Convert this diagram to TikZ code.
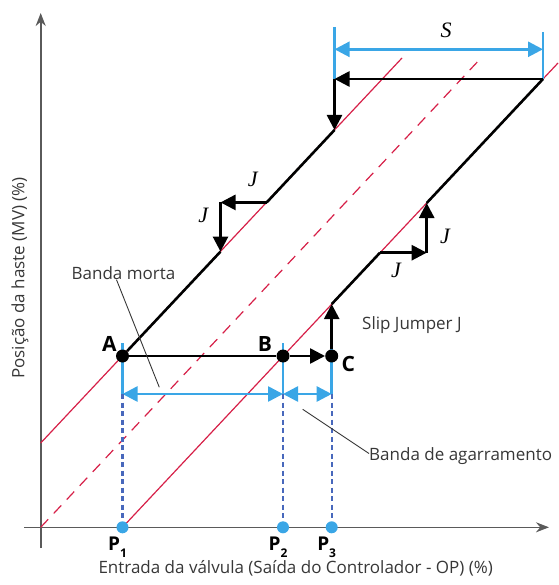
\documentclass[tikz,border=0pt]{standalone}
\usepackage{fontspec}
\setmainfont{Open Sans}
\newfontfamily\timesfont{Liberation Serif}
\usetikzlibrary{arrows.meta,positioning}
\definecolor{hred}{RGB}{214,32,72}
\definecolor{hblue}{RGB}{58,166,230}
\definecolor{hdark}{RGB}{72,104,188}
\definecolor{haxis}{RGB}{90,90,90}
\definecolor{htext}{RGB}{55,55,55}
\newcommand{\psub}[1]{\raisebox{-7pt}{\fontsize{12}{13}\selectfont #1}}

\begin{document}
\begin{tikzpicture}[
  x=1pt, y=-1pt,
  axis/.style={draw=haxis, line width=1.6pt, -{Stealth[length=13pt,width=10pt]}},
  redline/.style={draw=hred, line width=1.2pt},
  stroke/.style={line width=2.6pt},
  jump/.style={stroke, -{Triangle[length=15pt,width=15pt]}},
  tick/.style={draw=hblue, line width=2.6pt},
  dim/.style={tick, {Triangle[length=15pt,width=15pt]}-{Triangle[length=15pt,width=15pt]}},
  guide/.style={draw=hdark, line width=2.4pt, dash pattern=on 5pt off 3.5pt},
  leader/.style={draw=htext, line width=0.9pt},
  dot/.style={circle, fill, inner sep=0pt, minimum size=13pt},
  pdot/.style={circle, fill=hblue, inner sep=0pt, minimum size=12pt},
  lab/.style={font=\fontsize{17}{20}\selectfont, text=htext, inner sep=0pt},
  ptlab/.style={font=\fontsize{21}{24}\selectfont\bfseries, inner sep=0pt},
  plab/.style={font=\fontsize{19}{22}\selectfont\bfseries, inner sep=0pt},
  jlab/.style={font=\fontsize{22}{24}\selectfont\timesfont\itshape, inner sep=0pt}
]
  \useasboundingbox (0,0) rectangle (558,585);

  % axes
  \coordinate (xl) at (24,527.3);
  \coordinate (xr) at (549,527.3);
  \coordinate (yb) at (40.7,548);
  \coordinate (yt) at (40.7,13);
  \draw[axis] (xl) -- (xr);
  \draw[axis] (yb) -- (yt);

  % points on the two limit lines
  \coordinate (ll0) at (40.7,443);
  \coordinate (ll1) at (402,58);
  \coordinate (rl0) at (122.5,527.3);
  \coordinate (rl1) at (558,63);
  \coordinate (ml0) at (40.7,527.3);
  \coordinate (ml1) at (482,57);
  \coordinate (jl1) at (220.5,251.6);
  \coordinate (jl2) at (266.7,202.4);
  \coordinate (jlc) at (220.5,202.4);
  \coordinate (tl) at (334.5,130);
  \coordinate (tlc) at (334.5,79);
  \coordinate (tr) at (543,79);
  \coordinate (cr) at (331.7,304.1);
  \coordinate (jr1) at (380,252.7);
  \coordinate (jrc) at (426.7,252.7);
  \coordinate (jr2) at (426.7,203);

  \draw[redline] (ll0) -- (ll1);
  \draw[redline] (rl0) -- (rl1);
  \draw[redline, dash pattern=on 11pt off 8pt] (ml0) -- (ml1);

  % dimensions
  \coordinate (sl) at (334.5,27);
  \coordinate (sr) at (543,32);
  \coordinate (s1) at (334.5,49.3);
  \coordinate (s2) at (543,49.3);
  \draw[tick] (sl) -- (tlc);
  \draw[tick] (sr) -- (tr);
  \draw[dim] (s1) -- (s2);

  \coordinate (a0) at (122.5,343);
  \coordinate (a1) at (122.5,394);
  \coordinate (b0) at (283,343);
  \coordinate (b1) at (283,394);
  \coordinate (c0) at (331.7,343);
  \coordinate (c1) at (331.7,394);
  \draw[tick] (a0) -- (a1);
  \draw[tick] (b0) -- (b1);
  \draw[tick] (c0) -- (c1);
  \draw[dim] (a1) -- (b1);
  \draw[dim] (b1) -- (c1);

  \node[pdot] (P1) at (122.5,527.3) {};
  \node[pdot] (P2) at (283,527.3) {};
  \node[pdot] (P3) at (331.7,527.3) {};
  \draw[guide] (a1) -- (P1);
  \draw[guide] (b1) -- (P2);
  \draw[guide] (c1) -- (P3);

  \node[dot] (A) at (122.5,356) {};
  \node[dot] (B) at (283,356) {};
  \node[dot] (C) at (331.7,356) {};

  % valve path
  \draw[stroke] (A) -- (B);
  \draw[jump] (B) -- (C);
  \draw[jump] (C) -- (cr);
  \draw[stroke] (cr) -- (jr1);
  \draw[jump] (jr1) -- (jrc);
  \draw[jump] (jrc) -- (jr2);
  \draw[stroke] (jr2) -- (tr);
  \draw[jump] (tr) -- (tlc);
  \draw[jump] (tlc) -- (tl);
  \draw[stroke] (tl) -- (jl2);
  \draw[jump] (jl2) -- (jlc);
  \draw[jump] (jlc) -- (jl1);
  \draw[stroke] (jl1) -- (A);

  % labels
  \node[ptlab, above left=0pt and 1pt of A] (la) {A};
  \node[ptlab, above left=0pt and 6pt of B] (lb) {B};
  \node[ptlab, below right=-5pt and 5pt of C] (lc) {C};
  \node[plab, below=3pt of P1, xshift=-5pt] (lp1) {P\psub{1}};
  \node[plab, below=3pt of P2, xshift=-5pt] (lp2) {P\psub{2}};
  \node[plab, below=3pt of P3, xshift=-5pt] (lp3) {P\psub{3}};

  \node[jlab] (ls) at (446,30) {S};
  \node[jlab] (j1) at (252.7,179.3) {J};
  \node[jlab] (j2) at (203.3,215) {J};
  \node[jlab] (j3) at (445,236.7) {J};
  \node[jlab] (j4) at (396,270) {J};

  \node[lab] (bm) at (123.5,273) {Banda morta};
  \coordinate (bmend) at (159.3,387.3);
  \draw[leader] ([xshift=-7pt]bm.south) -- (bmend);
  \node[lab, anchor=west] (bg) at (369,456.5) {Banda de agarramento};
  \coordinate (bgend) at (302.7,409.3);
  \draw[leader] (bgend) -- ([yshift=3pt]bg.west);
  \node[lab, anchor=west] (sj) at (362,325) {Slip Jumper J};

  \node[lab] (xlab) at (295.7,568) {Entrada da válvula (Saída do Controlador - OP) (\%)};
  \node[lab, rotate=90] (ylab) at (20,278) {Posição da haste (MV) (\%)};
\end{tikzpicture}
\end{document}
